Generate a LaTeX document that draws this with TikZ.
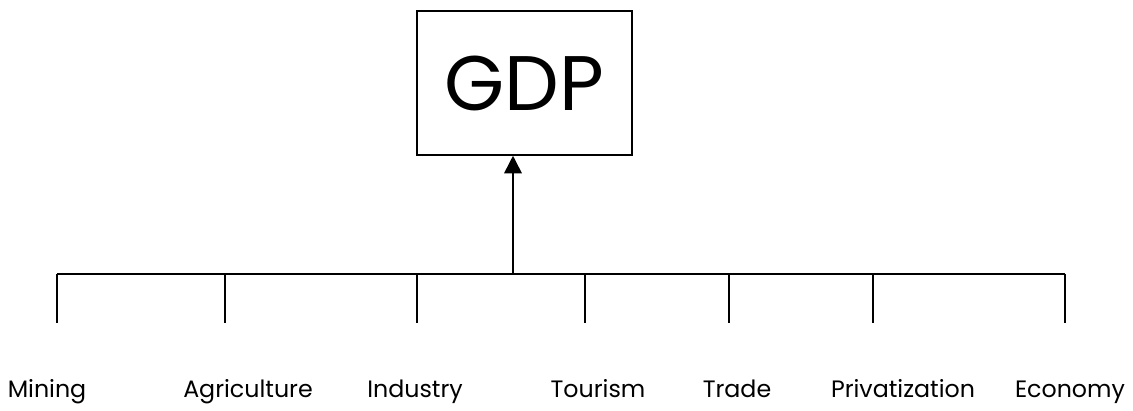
\documentclass[tikz,border=0pt]{standalone}
\usepackage{fontspec}
\setmainfont{Poppins}
\usetikzlibrary{arrows.meta}

\begin{document}
\begin{tikzpicture}[x=0.02cm, y=-0.02cm, >={Triangle[length=10pt,width=10pt]},
    line width=0.9pt,
    sector/.style={anchor=base, inner sep=0pt, font=\fontsize{13.5}{16}\selectfont}]
    \useasboundingbox (0,0) rectangle (1133,411);

    \node[draw, minimum width=4.3cm, minimum height=2.88cm, font=\fontsize{44}{48}\selectfont] (gdp) at (524.5,83) {GDP};

    \coordinate (left) at (57,274);
    \coordinate (right) at (1065,274);
    \coordinate (mid) at (513,274);

    \draw (left) -- (right);
    \draw[->] (mid) -- (mid |- gdp.south);

    \coordinate (t1) at (57,274);
    \coordinate (t2) at (225,274);
    \coordinate (t3) at (417,274);
    \coordinate (t4) at (585,274);
    \coordinate (t5) at (729,274);
    \coordinate (t6) at (873,274);
    \coordinate (t7) at (1065,274);
    \draw (t1) -- ++(0,49);
    \draw (t2) -- ++(0,49);
    \draw (t3) -- ++(0,49);
    \draw (t4) -- ++(0,49);
    \draw (t5) -- ++(0,49);
    \draw (t6) -- ++(0,49);
    \draw (t7) -- ++(0,49);

    \node[sector] (mining) at (47,398) {Mining};
    \node[sector] (agri) at (248,398) {Agriculture};
    \node[sector] (industry) at (415,398) {Industry};
    \node[sector] (tourism) at (598,398) {Tourism};
    \node[sector] (trade) at (737,398) {Trade};
    \node[sector] (priv) at (903,398) {Privatization};
    \node[sector] (economy) at (1070,398) {Economy};
\end{tikzpicture}
\end{document}
